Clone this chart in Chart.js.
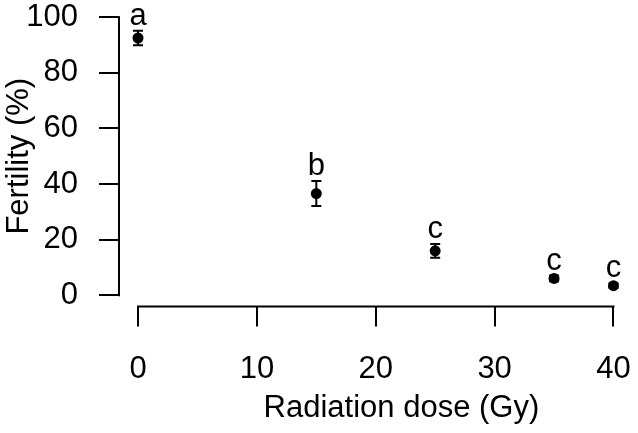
<!DOCTYPE html>
<html>
<head>
<meta charset="utf-8">
<script src="https://cdn.jsdelivr.net/npm/chart.js@4.4.1/dist/chart.umd.min.js"></script>
<style>
html,body{margin:0;padding:0;background:#fff;}
#wrap{width:638px;height:433px;}
</style>
</head>
<body>
<div id="wrap"><canvas id="c" width="638" height="433"></canvas></div>
<script>
const doses = [0, 15, 25, 35, 40];
const fertility = [92.5, 36.6, 16.0, 6.1, 3.5];
const stdErr = [2.6, 4.5, 2.5, 1.0, 0.8];
const letters = ['a', 'b', 'c', 'c', 'c'];
const xTicks = [0, 10, 20, 30, 40];
const yTicks = [0, 20, 40, 60, 80, 100];
const xTitle = 'Radiation dose (Gy)';
const yTitle = 'Fertility (%)';

const FONT = 'Liberation Sans, Arial, sans-serif';
const FS = 31;

const extras = {
  id: 'extras',
  afterDatasetsDraw(chart) {
    const ctx = chart.ctx;
    const xs = chart.scales.x, ys = chart.scales.y;
    ctx.save();
    ctx.strokeStyle = '#000';
    ctx.lineWidth = 2;
    ctx.lineCap = 'butt';
    // axis lines spanning the tick range (R style)
    ctx.beginPath();
    ctx.moveTo(xs.getPixelForValue(xTicks[0]) - 1, xs.top);
    ctx.lineTo(xs.getPixelForValue(xTicks[xTicks.length - 1]) + 1, xs.top);
    ctx.moveTo(ys.right, ys.getPixelForValue(yTicks[0]) + 1);
    ctx.lineTo(ys.right, ys.getPixelForValue(yTicks[yTicks.length - 1]) - 1);
    ctx.stroke();
    // error bars
    doses.forEach((d, i) => {
      const px = xs.getPixelForValue(d);
      const top = ys.getPixelForValue(fertility[i] + stdErr[i]);
      const bot = ys.getPixelForValue(fertility[i] - stdErr[i]);
      ctx.beginPath();
      ctx.moveTo(px, top); ctx.lineTo(px, bot);
      ctx.moveTo(px - 5, top); ctx.lineTo(px + 5, top);
      ctx.moveTo(px - 5, bot); ctx.lineTo(px + 5, bot);
      ctx.stroke();
    });
    // letters
    ctx.fillStyle = '#000';
    ctx.font = FS + 'px ' + FONT;
    ctx.textAlign = 'center';
    ctx.textBaseline = 'alphabetic';
    doses.forEach((d, i) => {
      const px = xs.getPixelForValue(d);
      const top = ys.getPixelForValue(fertility[i] + stdErr[i]);
      ctx.fillText(letters[i], px, top - 6);
    });
    // x axis title
    ctx.textBaseline = 'middle';
    const cx = chart.chartArea.left + (chart.chartArea.right - chart.chartArea.left) * 0.55;
    ctx.fillText(xTitle, cx, chart.height - 25);
    ctx.restore();
  }
};

new Chart(document.getElementById('c'), {
  type: 'scatter',
  data: {
    datasets: [{
      data: doses.map((d, i) => ({x: d, y: fertility[i]})),
      backgroundColor: '#000',
      borderColor: '#000',
      pointRadius: 5.5,
      pointHoverRadius: 5.5,
      borderWidth: 0
    }]
  },
  options: {
    responsive: false,
    animation: false,
    events: [],
    layout: {padding: {top: 6, right: 4, left: 0, bottom: 0}},
    plugins: {legend: {display: false}, tooltip: {enabled: false}, title: {display: false}},
    scales: {
      x: {
        type: 'linear',
        min: -1.6, max: 41.6,
        afterBuildTicks: s => { s.ticks = xTicks.map(v => ({value: v})); },
        afterFit: s => { s.height = 126.5; s.paddingLeft = 0; s.paddingRight = 0; s.paddingTop = 0; s.paddingBottom = 0; },
        border: {display: false},
        grid: {drawOnChartArea: false, drawTicks: true, tickLength: 20, color: '#000', lineWidth: 2},
        ticks: {color: '#000', font: {family: FONT, size: FS}, padding: 24, maxRotation: 0, autoSkip: false},
        title: {display: false}
      },
      y: {
        type: 'linear',
        min: -4, max: 104,
        afterBuildTicks: s => { s.ticks = yTicks.map(v => ({value: v})); },
        afterFit: s => { s.width = 119; s.paddingLeft = 0; s.paddingRight = 0; s.paddingTop = 0; s.paddingBottom = 0; },
        border: {display: false},
        grid: {drawOnChartArea: false, drawTicks: true, tickLength: 20, color: '#000', lineWidth: 2},
        ticks: {color: '#000', font: {family: FONT, size: FS}, padding: 21, autoSkip: false},
        title: {display: true, text: yTitle, color: '#000', font: {family: FONT, size: FS}, padding: {top: 1, bottom: 0}}
      }
    }
  },
  plugins: [extras]
});
</script>
</body>
</html>
